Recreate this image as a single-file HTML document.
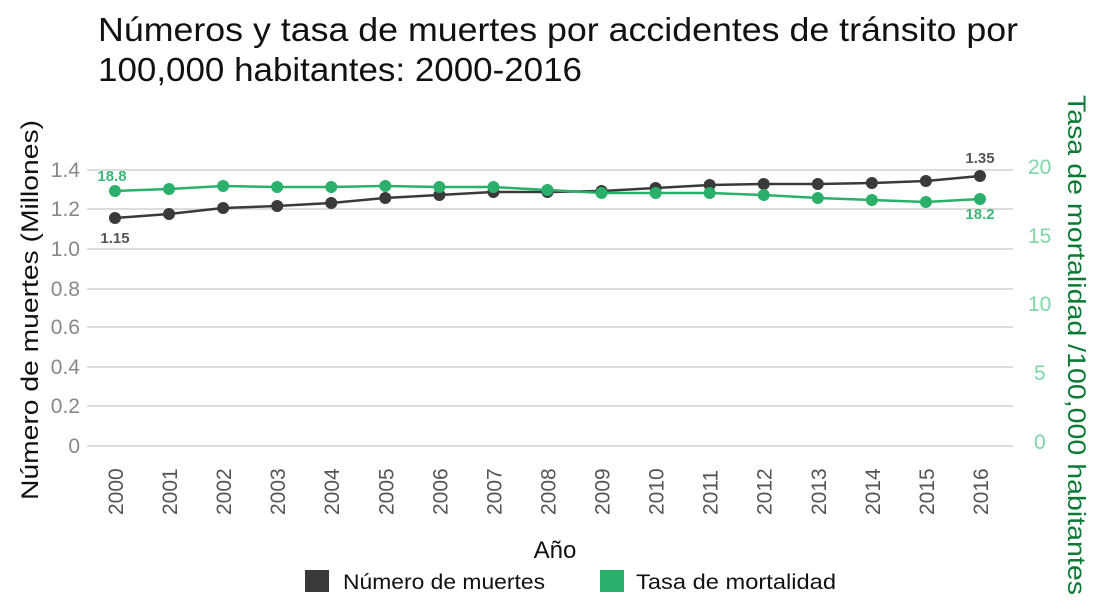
<!DOCTYPE html><html><head><meta charset="utf-8"><style>body{margin:0;background:#fff}svg{font-family:"Liberation Sans",sans-serif}</style></head><body>
<svg width="1110" height="609" xmlns="http://www.w3.org/2000/svg">
<text x="98" y="41" font-size="33" fill="#111" textLength="920" lengthAdjust="spacingAndGlyphs">Números y tasa de muertes por accidentes de tránsito por</text>
<text x="98" y="81" font-size="33" fill="#111" textLength="484" lengthAdjust="spacingAndGlyphs">100,000 habitantes: 2000-2016</text>
<g stroke="#ddd" stroke-width="2">
<line x1="87" x2="1013" y1="170" y2="170"/><line x1="87" x2="1013" y1="209" y2="209"/><line x1="87" x2="1013" y1="249" y2="249"/><line x1="87" x2="1013" y1="289" y2="289"/><line x1="87" x2="1013" y1="327" y2="327"/><line x1="87" x2="1013" y1="367" y2="367"/><line x1="87" x2="1013" y1="406" y2="406"/><line x1="87" x2="1013" y1="446" y2="446"/></g>
<g font-size="21" fill="#888" text-anchor="end">
<text x="80" y="177">1.4</text><text x="80" y="216">1.2</text><text x="80" y="256">1.0</text><text x="80" y="296">0.8</text><text x="80" y="334">0.6</text><text x="80" y="374">0.4</text><text x="80" y="413">0.2</text><text x="80" y="453">0</text></g>
<g font-size="21" fill="#7fd4a8"><text x="1028" y="174">20</text><text x="1028" y="243">15</text><text x="1028" y="311">10</text><text x="1034" y="380">5</text><text x="1034" y="449">0</text></g>
<text transform="translate(38,310) rotate(-90)" font-size="24" fill="#111" text-anchor="middle" textLength="380" lengthAdjust="spacingAndGlyphs">Número de muertes (Millones)</text>
<text transform="translate(1068,345) rotate(90)" font-size="25" fill="#0a7a35" text-anchor="middle" textLength="500" lengthAdjust="spacingAndGlyphs">Tasa de mortalidad /100,000 habitantes</text>
<g font-size="21" fill="#555" id="yrs"></g>
<polyline fill="none" stroke="#3a3a3a" stroke-width="2.5" points="115,218 169,214 223,208 277,206 331,203 385,198 439,195 493,192 548,192 602,191 656,188 710,185 764,184 818,184 872,183 926,181 980,176"/>
<polyline fill="none" stroke="#2ab06a" stroke-width="2.5" points="115,191 169,189 223,186 277,187 331,187 385,186 439,187 493,187 548,190 602,193 656,193 710,193 764,195 818,198 872,200 926,202 980,199"/>
<g fill="#3a3a3a" id="bd"></g><g fill="#2ab06a" id="gd"></g>
<text x="115" y="243" font-size="15" font-weight="bold" fill="#555" text-anchor="middle">1.15</text>
<text x="980" y="163" font-size="15" font-weight="bold" fill="#555" text-anchor="middle">1.35</text>
<text x="112" y="181" font-size="15" font-weight="bold" fill="#3ab878" text-anchor="middle">18.8</text>
<text x="980" y="219" font-size="15" font-weight="bold" fill="#3ab878" text-anchor="middle">18.2</text>
<text x="555" y="558" font-size="24" fill="#111" text-anchor="middle">Año</text>
<rect x="305" y="570" width="24" height="22" fill="#3a3a3a"/><text x="343" y="589" font-size="21" fill="#111" textLength="202" lengthAdjust="spacingAndGlyphs">Número de muertes</text>
<rect x="600" y="570" width="24" height="22" fill="#2ab06a"/><text x="636" y="589" font-size="21" fill="#111" textLength="200" lengthAdjust="spacingAndGlyphs">Tasa de mortalidad</text>
<script>
var b=[218,214,208,206,203,198,195,192,192,191,188,185,184,184,183,181,176],g=[191,189,186,187,187,186,187,187,190,193,193,193,195,198,200,202,199],ns="http://www.w3.org/2000/svg";
for(var i=0;i<17;i++){var x=115+i*54.06;
var c=document.createElementNS(ns,"circle");c.setAttribute("cx",x);c.setAttribute("cy",b[i]);c.setAttribute("r",6);document.getElementById("bd").appendChild(c);
c=document.createElementNS(ns,"circle");c.setAttribute("cx",x);c.setAttribute("cy",g[i]);c.setAttribute("r",6);document.getElementById("gd").appendChild(c);
var t=document.createElementNS(ns,"text");t.setAttribute("transform","translate("+(x+8)+",515) rotate(-90)");t.textContent=2000+i;document.getElementById("yrs").appendChild(t);}
</script>
</svg></body></html>
